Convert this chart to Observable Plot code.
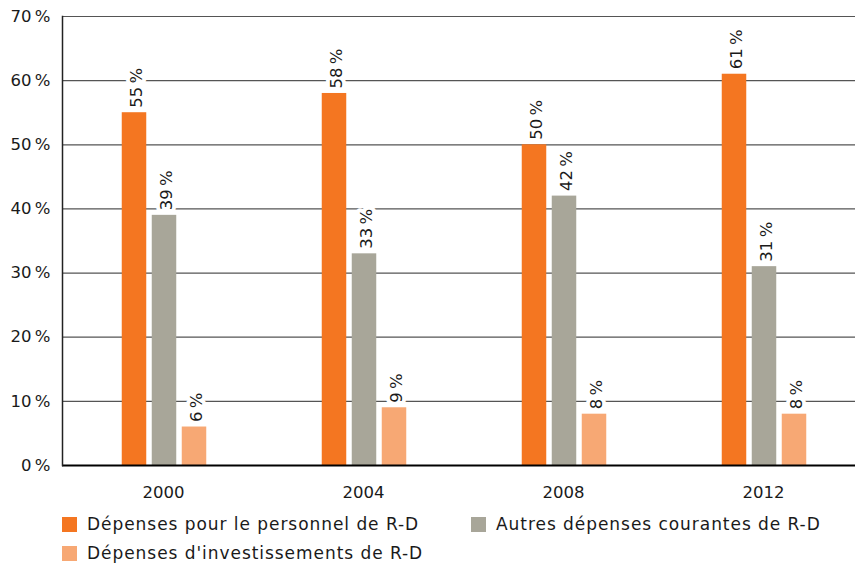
<!DOCTYPE html>
<html>
<head>
<meta charset="utf-8">
<script src="https://cdn.jsdelivr.net/npm/d3@7"></script>
<script src="https://cdn.jsdelivr.net/npm/@observablehq/plot@0.6"></script>
<style>
  html, body { margin: 0; padding: 0; background: #fff; }
  body { width: 855px; height: 565px; overflow: hidden; font-family: "DejaVu Sans", sans-serif; color: #1a1a1a; }
  #chart svg { display: block; }
  .legend { position: relative; height: 70px; font-size: 17px; letter-spacing: 0.95px; }
  .item { position: absolute; display: flex; align-items: center; white-space: nowrap; }
  .sw { width: 15px; height: 15px; margin-right: 10px; }
</style>
</head>
<body>
<div id="chart"></div>
<div class="legend" id="legend"></div>
<script>
const years = ["2000", "2004", "2008", "2012"];
const personnel = [55, 58, 50, 61];
const autres = [39, 33, 42, 31];
const investissements = [6, 9, 8, 8];
const seriesNames = [
  "Dépenses pour le personnel de R-D",
  "Autres dépenses courantes de R-D",
  "Dépenses d'investissements de R-D"
];
const colors = ["#F47621", "#A8A699", "#F7A874"];
const yTicks = [0, 10, 20, 30, 40, 50, 60, 70];

const seriesValues = [personnel, autres, investissements];
const rows = years.flatMap((year, i) =>
  seriesValues.map((vals, k) => ({year, k, value: vals[i]}))
);
const offsets = [-29, 1, 31];
const pct = v => v + "\u2009%";

const marks = [
  Plot.gridY(yTicks, {stroke: "#555", strokeOpacity: 1, strokeWidth: 1.2}),
];
seriesValues.forEach((_, k) => {
  const data = rows.filter(d => d.k === k);
  marks.push(Plot.barY(data, {
    x: "year", y: "value", fill: colors[k],
    insetLeft: 87.75, insetRight: 87.75, dx: offsets[k]
  }));
});
seriesValues.forEach((_, k) => {
  const data = rows.filter(d => d.k === k);
  marks.push(Plot.text(data, {
    x: "year", y: "value", text: d => pct(d.value),
    rotate: -90, textAnchor: "start", dx: offsets[k] + 2, dy: -5,
    fontSize: 16.5, fill: "#1a1a1a", stroke: "white", strokeWidth: 8
  }));
});
marks.push(Plot.ruleY([0], {stroke: "#000", strokeWidth: 2}));
marks.push(Plot.frame({anchor: "left", stroke: "#222", strokeWidth: 1.5}));
marks.push(Plot.axisY(yTicks, {tickSize: 0, tickPadding: 12, tickFormat: pct, fontSize: 16.5, fill: "#1a1a1a"}));
marks.push(Plot.axisX({tickSize: 0, tickPadding: 21, fontSize: 16.5, fill: "#1a1a1a"}));

const chart = Plot.plot({
  width: 855,
  height: 510,
  marginLeft: 62,
  marginRight: 0,
  marginTop: 16,
  marginBottom: 45,
  style: {fontFamily: "DejaVu Sans, sans-serif", background: "white", overflow: "visible"},
  x: {type: "band", domain: years, range: [62, 864], padding: 0, label: null},
  y: {domain: [0, 70], label: null},
  marks
});
document.getElementById("chart").appendChild(chart);

const legend = document.getElementById("legend");
const pos = [[62, 4], [471, 4], [62, 33]];
seriesNames.forEach((name, k) => {
  const it = document.createElement("div");
  it.className = "item";
  it.style.left = pos[k][0] + "px";
  it.style.top = pos[k][1] + "px";
  const sw = document.createElement("span");
  sw.className = "sw";
  sw.style.background = colors[k];
  const tx = document.createElement("span");
  tx.textContent = name;
  it.appendChild(sw);
  it.appendChild(tx);
  legend.appendChild(it);
});
</script>
</body>
</html>
